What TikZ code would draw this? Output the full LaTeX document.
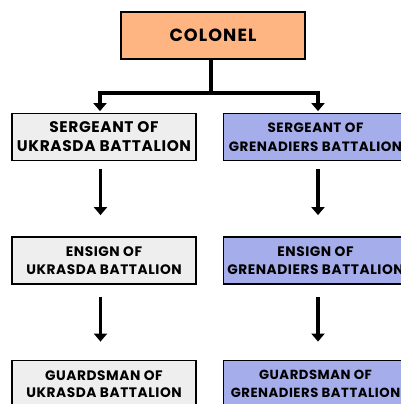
\documentclass[tikz,border=0pt]{standalone}
\usepackage{fontspec}
\setmainfont{Poppins}
\usetikzlibrary{arrows.meta}
\definecolor{orangefill}{RGB}{255,181,130}
\definecolor{greyfill}{RGB}{238,238,238}
\definecolor{bluefill}{RGB}{165,173,235}
\tikzset{
  box/.style={draw=black, line width=1.8pt, minimum width=184pt, minimum height=47pt, inner sep=0pt, align=center},
  leftbox/.style={box, fill=greyfill},
  rightbox/.style={box, fill=bluefill},
  conn/.style={line width=3.5pt},
  arr/.style={conn, -{Triangle[width=13pt,length=8pt]}},
  bigtxt/.style={font=\bfseries\fontsize{15.4}{19}\selectfont\addfontfeatures{LetterSpace=4}},
  midtxt/.style={font=\bfseries\fontsize{13.75}{17.5}\selectfont\addfontfeatures{LetterSpace=4}},
}
\begin{document}
\begin{tikzpicture}[x=1pt,y=-1pt]
\useasboundingbox (0,0) rectangle (401,404);
\node[box, fill=orangefill, font=\bfseries\fontsize{17.6}{20}\selectfont\addfontfeatures{LetterSpace=6}] (col) at (213,35.5) {COLONEL};
\node[leftbox, bigtxt] (sl) at (104,137) {SERGEANT OF\\UKRASDA BATTALION};
\node[rightbox, font=\bfseries\fontsize{13.5}{19}\selectfont\addfontfeatures{LetterSpace=4}] (sr) at (315.5,137) {SERGEANT OF\\GRENADIERS BATTALION};
\node[leftbox, midtxt] (el) at (104,260.5) {ENSIGN OF\\UKRASDA BATTALION};
\node[rightbox, midtxt] (er) at (315.5,260.5) {ENSIGN OF\\GRENADIERS BATTALION};
\node[leftbox, midtxt] (gl) at (104,384) {GUARDSMAN OF\\UKRASDA BATTALION};
\node[rightbox, font=\bfseries\fontsize{13.2}{17.5}\selectfont\addfontfeatures{LetterSpace=4}] (gr) at (315.5,384) {GUARDSMAN OF\\GRENADIERS BATTALION};
\coordinate (j) at (211,93);
\coordinate (jl) at (100,93);
\coordinate (jr) at (318,93);
\draw[conn] (col.south -| j) -- (j);
\draw[arr, shorten >=1.5pt] (j) -- (jl) -- (sl.north -| jl);
\draw[arr, shorten >=1.5pt] (j) -- (jr) -- (sr.north -| jr);
\draw[arr] ([xshift=-3.5pt,yshift=-8pt]sl.south) -- ([xshift=-3.5pt,yshift=21pt]el.north);
\draw[arr] ([xshift=2.5pt,yshift=-8pt]sr.south) -- ([xshift=2.5pt,yshift=21pt]er.north);
\draw[arr] ([xshift=-3.5pt,yshift=-12pt]el.south) -- ([xshift=-3.5pt,yshift=18pt]gl.north);
\draw[arr] ([xshift=2.5pt,yshift=-12pt]er.south) -- ([xshift=2.5pt,yshift=18pt]gr.north);
\end{tikzpicture}
\end{document}
